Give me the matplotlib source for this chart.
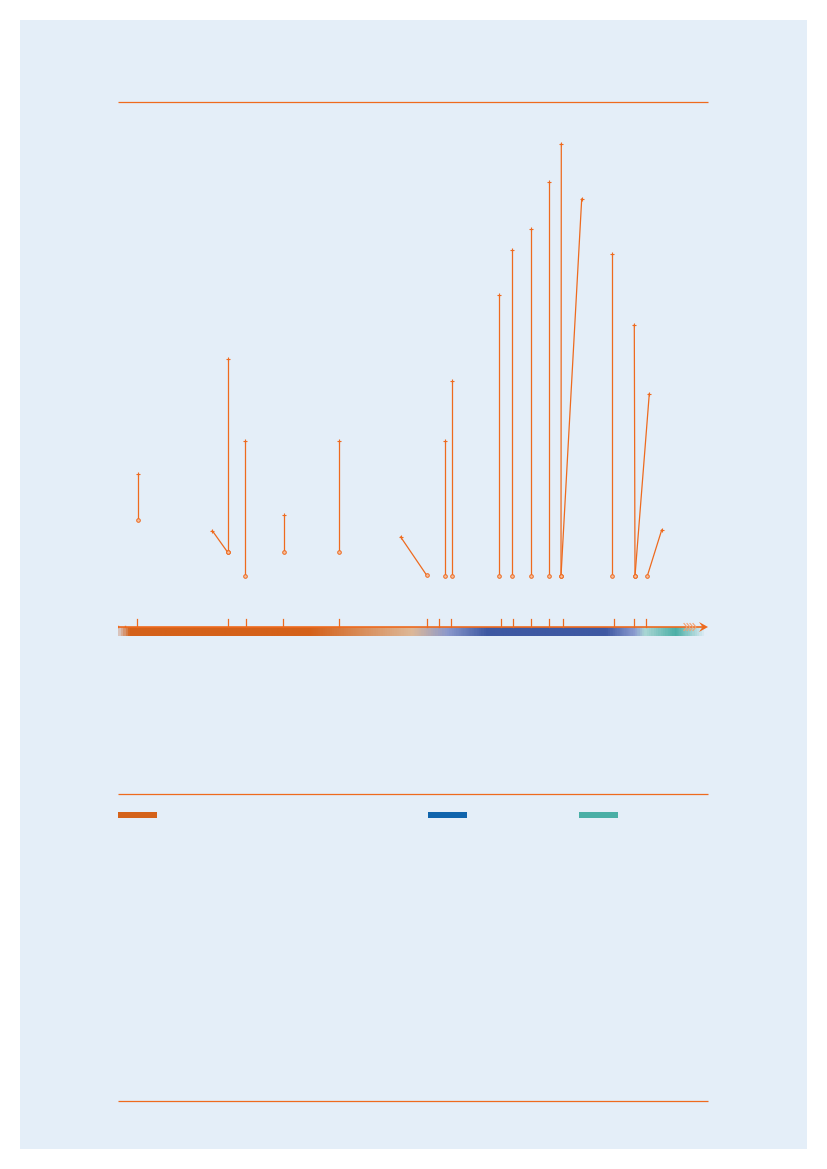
import matplotlib
matplotlib.use("Agg")
import matplotlib.pyplot as plt
import numpy as np
from matplotlib.colors import LinearSegmentedColormap
from matplotlib.patches import Rectangle, Polygon

PANEL = "#E4EEF8"
ORANGE = "#EE6A1E"

# timeline tick positions (units along the axis)
tick_pos = [19.3, 110.3, 128.3, 165.3, 221.3, 309.3, 321.3, 333.3,
            383.3, 395.3, 413.3, 431.3, 445.3, 496.3, 516.3, 528.3]

# event stems: base position/height and top position/height
base_x = [20.3, 109.7, 109.7, 127.3, 166.0, 221.3, 308.7, 326.7, 334.0,
          381.3, 393.7, 413.0, 431.3, 443.0, 443.0, 494.3, 517.0, 517.0, 529.3]
base_h = [107, 74.7, 74.7, 51, 74.7, 74.7, 51.7, 51, 51,
          51, 51, 51, 51, 51, 51, 51, 51, 51, 51]
top_x = [20.3, 109.7, 94.3, 127.3, 166.0, 221.3, 282.7, 326.7, 334.0,
         381.3, 393.7, 413.0, 431.3, 443.3, 463.7, 494.3, 516.3, 531.3, 543.7]
top_h = [153, 268, 96.3, 185.7, 111.7, 185.7, 90, 185.7, 246,
         331.7, 377, 398, 444.7, 483, 428, 373, 302, 233.3, 97]

# colour band along the timeline
band_stops = [0.0, 0.017, 0.325, 0.50, 0.56, 0.627, 0.83, 0.88, 0.897, 0.95, 1.0]
band_colors = ["#D9C3BC", "#D4611A", "#D4611A", "#DDB898", "#8A98CC", "#3E58A2",
               "#3E58A2", "#8C9CD0", "#A9D6D4", "#4AAFA6", PANEL]

legend_colors = ["#D4621A", "#1064AC", "#4AAFA6"]
legend_left = [118, 428, 579]

W, H = 827, 1169
fig = plt.figure(figsize=(W / 100, H / 100), dpi=100, facecolor="white")

# page layer in pixel coordinates
bg = fig.add_axes([0, 0, 1, 1])
bg.set_xlim(0, W)
bg.set_ylim(H, 0)
bg.axis("off")
bg.add_patch(Rectangle((20, 20), 787, 1129, color=PANEL, lw=0))
for y in (102, 794, 1101):
    bg.plot([118, 708], [y, y], color=ORANGE, lw=0.9, solid_capstyle="butt")
for c, x0 in zip(legend_colors, legend_left):
    bg.add_patch(Rectangle((x0, 812), 39, 5.5, color=c, lw=0))

# timeline axes: x units = pixels from the left rule, y units = pixels above baseline
x0_px, x1_px = 118, 712
y_top_px, y_bot_px = 110, 645
ax = fig.add_axes([x0_px / W, 1 - y_bot_px / H, (x1_px - x0_px) / W, (y_bot_px - y_top_px) / H])
ax.set_xlim(0, x1_px - x0_px)
ax.set_ylim(-(y_bot_px - 627), 627 - y_top_px)
ax.axis("off")
ax.patch.set_alpha(0)

cmap = LinearSegmentedColormap.from_list("band", list(zip(band_stops, band_colors)))
grad = np.linspace(0, 1, 600).reshape(1, -1)
ax.imshow(grad, cmap=cmap, aspect="auto", extent=(0, 589, -9, 0), zorder=1)

# baseline with arrow
ax.plot([0, 584], [0, 0], color=ORANGE, lw=1.2, zorder=3)
ax.add_patch(Polygon([[581, 5], [590, 0], [581, -5], [584.5, 0]], closed=True,
                     color=ORANGE, lw=0, zorder=4))
for dx in (566, 569, 572, 575):
    ax.plot([dx, dx + 3, dx], [3.5, 0, -3.5], color="#F5A070", lw=0.8, zorder=4)
ax.plot([0, 0], [0, 1.5], color=ORANGE, lw=1, zorder=3)
ax.plot([7, 7], [0, 1.5], color=ORANGE, lw=1, zorder=3)

for t in tick_pos:
    ax.plot([t, t], [0, 8.5], color=ORANGE, lw=0.9, zorder=3)

for bx, bh, tx, th in zip(base_x, base_h, top_x, top_h):
    ax.plot([bx, tx], [bh, th], color=ORANGE, lw=0.9, zorder=5)
    ax.plot(tx, th, marker="+", ms=3, color=ORANGE, mew=0.8, zorder=6)
    ax.plot(bx, bh, marker="o", ms=2.6, mfc="#F5BFA0", mec=ORANGE, mew=0.7, zorder=6)

fig.savefig("out.png", dpi=100, facecolor=fig.get_facecolor())
